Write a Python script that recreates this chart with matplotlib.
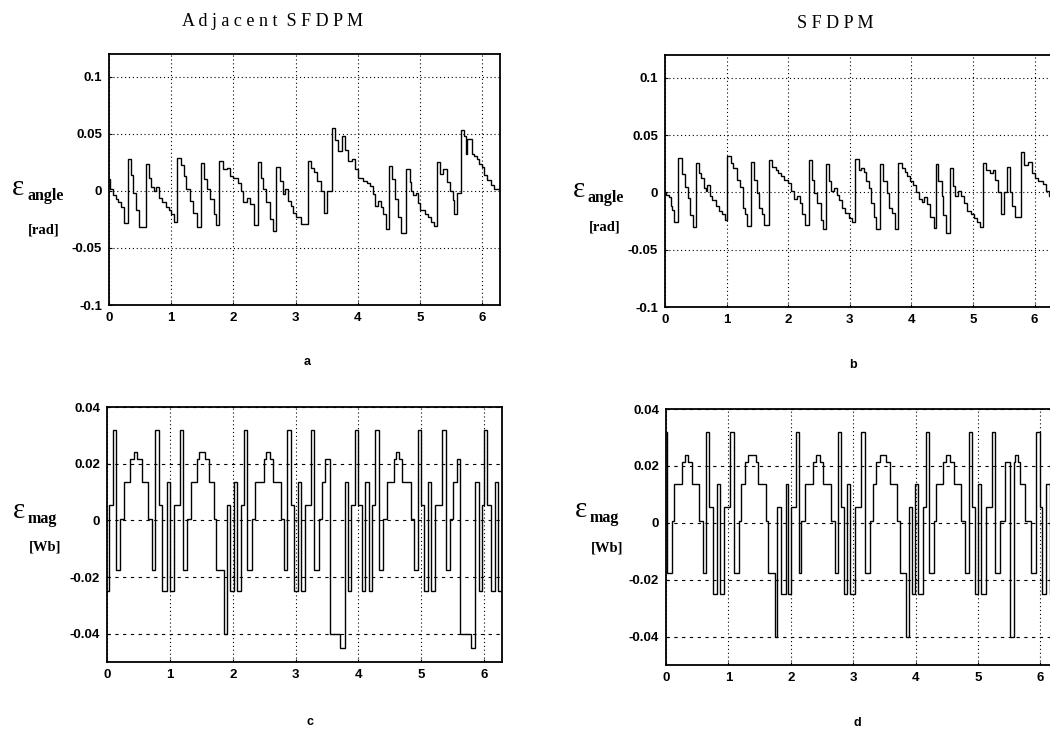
import numpy as np
import matplotlib
matplotlib.use('Agg')
import matplotlib.pyplot as plt

# step waveforms: x = start of each step [rad], y = level
END = 2 * np.pi

# a: angle error, adjacent SFDPM
a_x = [0.00, 0.02, 0.07, 0.11, 0.14, 0.19, 0.24, 0.30, 0.35, 0.39, 0.43, 0.49,
       0.59, 0.64, 0.68, 0.72, 0.76, 0.80, 0.85, 0.91, 0.96, 1.00, 1.04,
       1.10, 1.16, 1.20, 1.24, 1.30, 1.35, 1.41,
       1.48, 1.53, 1.57, 1.63, 1.68, 1.72,
       1.77, 1.83, 1.89, 1.95, 2.00, 2.07, 2.12, 2.16, 2.21, 2.27, 2.33,
       2.39, 2.44, 2.48, 2.52, 2.58, 2.63,
       2.69, 2.75, 2.79, 2.83, 2.87, 2.92, 2.96, 3.01, 3.08,
       3.19, 3.24, 3.29, 3.35, 3.40, 3.45, 3.51,
       3.59, 3.63, 3.68, 3.74, 3.79, 3.84, 3.90, 3.95, 4.00, 4.08, 4.14, 4.19,
       4.24, 4.28, 4.33, 4.37, 4.41, 4.45,
       4.50, 4.55, 4.59, 4.64, 4.69,
       4.77, 4.83, 4.86, 4.89, 4.93, 4.97, 5.00, 5.07, 5.12, 5.17, 5.22,
       5.27, 5.32, 5.37, 5.43, 5.48, 5.53, 5.55, 5.60,
       5.66, 5.70, 5.74, 5.76, 5.83, 5.87, 5.91, 5.95, 5.99, 6.03, 6.08, 6.14, 6.19]
a_y = [0.010, 0.002, -0.004, -0.007, -0.010, -0.014, -0.028, 0.028, 0.014, -0.002, -0.017, -0.032,
       0.024, 0.0115, 0.0035, 0.0, 0.0035, -0.006, -0.010, -0.014, -0.017, -0.020, -0.027,
       0.029, 0.023, 0.013, 0.0015, -0.009, -0.019, -0.032,
       0.0245, 0.010, 0.0015, -0.007, -0.020, -0.030,
       0.0265, 0.019, 0.020, 0.013, 0.0115, 0.007, 0.0, -0.010, -0.006, -0.0115, -0.030,
       0.025, 0.011, 0.0015, -0.010, -0.025, -0.035,
       0.021, 0.0087, -0.003, 0.0015, -0.009, -0.013, -0.019, -0.023, -0.029,
       0.0265, 0.020, 0.017, 0.0087, 0.0, -0.019, 0.0,
       0.055, 0.045, 0.035, 0.048, 0.036, 0.026, 0.028, 0.019, 0.0115, 0.009, 0.007, 0.004,
       -0.003, -0.013, -0.009, -0.014, -0.020, -0.033,
       0.022, 0.010, -0.007, -0.023, -0.037,
       0.0195, 0.008, 0.0, -0.004, -0.002, -0.011, -0.017, -0.020, -0.023, -0.027, -0.031,
       0.025, 0.0145, 0.0195, 0.008, 0.0, -0.008, -0.020, -0.002,
       0.0535, 0.0485, 0.0326, 0.0456, 0.0326, 0.031, 0.028, 0.024, 0.021, 0.0137, 0.0093, 0.005, 0.002]

# b: angle error, SFDPM
b_x = [0.00, 0.02, 0.06, 0.09, 0.12, 0.15,
       0.21, 0.27, 0.32, 0.37, 0.40, 0.45,
       0.50, 0.55, 0.58, 0.63, 0.66, 0.69, 0.73, 0.77, 0.83, 0.88, 0.93, 0.98,
       1.01, 1.07, 1.11, 1.17, 1.22, 1.26, 1.30, 1.33,
       1.39, 1.45, 1.49, 1.53, 1.57, 1.61,
       1.69, 1.74, 1.80, 1.84, 1.88, 1.93, 1.99, 2.04, 2.10, 2.15, 2.19, 2.23, 2.28,
       2.33, 2.38, 2.42, 2.47, 2.53, 2.57,
       2.61, 2.66, 2.70, 2.74, 2.79, 2.82, 2.88, 2.93, 2.99, 3.04,
       3.09, 3.15, 3.19, 3.23, 3.27, 3.31, 3.34, 3.39, 3.43,
       3.49, 3.54, 3.60, 3.63, 3.69, 3.74,
       3.79, 3.84, 3.89, 3.93, 3.98, 4.03, 4.08, 4.12, 4.17, 4.20, 4.25, 4.30, 4.36,
       4.40, 4.44, 4.49, 4.52, 4.57,
       4.63, 4.67, 4.71, 4.75, 4.81, 4.85, 4.90, 4.96, 5.01, 5.06, 5.12,
       5.17, 5.21, 5.27, 5.32, 5.36, 5.40, 5.46, 5.50,
       5.55, 5.60, 5.63, 5.69,
       5.78, 5.83, 5.90, 5.96, 6.00, 6.05, 6.13, 6.19, 6.24]
b_y = [0.0, -0.002, -0.004, -0.012, -0.015, -0.026,
       0.030, 0.016, 0.005, -0.005, -0.020, -0.030,
       0.026, 0.017, 0.0125, 0.004, 0.001, 0.0067, -0.0035, -0.0064, -0.012, -0.0165, -0.019, -0.024,
       0.032, 0.0255, 0.021, 0.011, 0.005, -0.0136, -0.019, -0.029,
       0.027, 0.011, -0.0006, -0.0136, -0.019, -0.028,
       0.0285, 0.0226, 0.020, 0.017, 0.014, 0.011, 0.008, 0.001, -0.006, -0.003, -0.009, -0.019, -0.028,
       0.0285, 0.011, -0.0006, -0.009, -0.024, -0.032,
       0.025, 0.0096, 0.001, 0.004, -0.002, -0.0064, -0.0136, -0.018, -0.022, -0.026,
       0.029, 0.0197, 0.021, 0.018, 0.0096, 0.004, -0.009, -0.021, -0.032,
       0.025, 0.0096, -0.0006, -0.0136, -0.018, -0.032,
       0.026, 0.021, 0.018, 0.014, 0.0096, 0.0067, 0.0, -0.006, -0.008, -0.004, -0.010, -0.021, -0.031,
       0.025, 0.0096, -0.0035, -0.020, -0.035,
       0.021, 0.006, -0.0035, 0.001, -0.0035, -0.009, -0.0165, -0.019, -0.022, -0.026, -0.030,
       0.026, 0.0197, 0.017, 0.020, 0.011, 0.0, -0.019, 0.0,
       0.022, 0.0, -0.012, -0.021,
       0.035, 0.024, 0.027, 0.017, 0.013, 0.010, 0.007, 0.001, -0.003]

# c: flux magnitude error, adjacent SFDPM
c_x = [0.00, 0.03, 0.10, 0.14, 0.20, 0.27, 0.37, 0.43, 0.48, 0.55, 0.65, 0.72,
       0.77, 0.82, 0.88, 0.95, 1.00,
       1.06, 1.16, 1.21, 1.27, 1.33, 1.43, 1.46, 1.56, 1.63, 1.70, 1.73, 1.86,
       1.91, 1.96, 2.02, 2.07,
       2.13, 2.18, 2.23, 2.30, 2.36, 2.49, 2.53, 2.59, 2.64, 2.77, 2.82,
       2.87, 2.93, 2.98, 3.04, 3.09,
       3.15, 3.24, 3.30, 3.37, 3.42, 3.47, 3.54, 3.71,
       3.78, 3.83, 3.88, 3.94, 3.99, 4.06, 4.11, 4.16,
       4.22, 4.27, 4.32, 4.39, 4.46, 4.56, 4.60, 4.65, 4.70, 4.83, 4.88,
       4.95, 5.00, 5.04, 5.11, 5.16,
       5.21, 5.33, 5.39, 5.46, 5.51, 5.56, 5.62, 5.79,
       5.86, 5.91, 5.96, 6.00, 6.05, 6.11, 6.17, 6.22]
c_y = [-0.025, 0.0055, 0.032, -0.0175, 0.0005, 0.0135, 0.0215, 0.024, 0.0215, 0.0135, 0.0005, -0.0175,
       0.032, 0.0055, -0.025, 0.0135, -0.025,
       0.0055, 0.032, -0.0175, 0.0005, 0.0135, 0.0215, 0.024, 0.0215, 0.0135, 0.0005, -0.0175, -0.040,
       0.0055, -0.025, 0.0135, -0.025,
       0.0055, 0.032, -0.0175, 0.0005, 0.0135, 0.0215, 0.024, 0.0215, 0.0135, 0.0005, -0.0175,
       0.032, 0.0055, -0.025, 0.0135, -0.025,
       0.0055, 0.032, -0.0175, 0.0005, 0.0135, 0.0215, -0.040, -0.045,
       0.0135, -0.025, 0.0055, 0.032, 0.0055, -0.025, 0.0135, -0.025,
       0.0055, 0.032, -0.0175, 0.0005, 0.0135, 0.0215, 0.024, 0.0215, 0.0135, 0.0005, -0.0175,
       0.032, 0.0055, -0.025, 0.0135, -0.025,
       0.0055, 0.032, -0.0175, 0.0005, 0.0135, 0.0215, -0.040, -0.045,
       0.0135, -0.025, 0.0055, 0.032, 0.0055, -0.025, 0.0135, -0.025]

# d: flux magnitude error, SFDPM
d_x = [0.00, 0.01, 0.09, 0.13, 0.25, 0.30, 0.36, 0.41, 0.53, 0.59,
       0.64, 0.69, 0.75, 0.81, 0.87,
       0.93, 1.02, 1.09, 1.17, 1.21, 1.26, 1.32, 1.44, 1.48, 1.61, 1.64, 1.74,
       1.78, 1.84, 1.92, 1.96,
       2.01, 2.08, 2.13, 2.17, 2.23, 2.35, 2.40, 2.47, 2.52, 2.65, 2.71,
       2.75, 2.80, 2.85, 2.90, 2.95,
       3.03, 3.13, 3.19, 3.27, 3.32, 3.37, 3.43, 3.53, 3.59, 3.71, 3.75, 3.84,
       3.90, 3.95, 3.99, 4.04,
       4.12, 4.16, 4.21, 4.30, 4.33, 4.44, 4.49, 4.55, 4.61, 4.73, 4.80,
       4.86, 4.90, 4.95, 5.00, 5.05,
       5.13, 5.23, 5.28, 5.36, 5.44, 5.52, 5.57, 5.60, 5.64, 5.68, 5.75, 5.85,
       5.93, 5.99, 6.02, 6.09, 6.15]
d_y = [0.032, -0.0175, 0.0005, 0.0135, 0.0215, 0.024, 0.0215, 0.0135, 0.0005, -0.0175,
       0.032, 0.0055, -0.025, 0.0135, -0.025,
       0.0055, 0.032, -0.0175, 0.0005, 0.0135, 0.0215, 0.024, 0.0215, 0.0135, 0.0005, -0.0175, -0.040,
       0.0055, -0.025, 0.0135, -0.025,
       0.0055, 0.032, -0.0175, 0.0005, 0.0135, 0.0215, 0.024, 0.0215, 0.0135, 0.0005, -0.0175,
       0.032, 0.0055, -0.025, 0.0135, -0.025,
       0.0055, 0.032, -0.0175, 0.0005, 0.0135, 0.0215, 0.024, 0.0215, 0.0135, 0.0005, -0.0175, -0.040,
       0.0055, -0.025, 0.0135, -0.025,
       0.0055, 0.032, -0.0175, 0.0005, 0.0135, 0.0215, 0.024, 0.0215, 0.0135, 0.0005, -0.0175,
       0.032, 0.0055, -0.025, 0.0135, -0.025,
       0.0055, 0.032, -0.0175, 0.0005, 0.0215, -0.040, 0.0215, 0.024, 0.0215, 0.0135, 0.0005, -0.0175,
       0.032, 0.0055, -0.025, 0.0135, -0.025]

angle_ticks = [-0.1, -0.05, 0, 0.05, 0.1]
angle_labels = ['-0.1', '-0.05', '0', '0.05', '0.1']
mag_ticks = [-0.04, -0.02, 0, 0.02, 0.04]
mag_labels = ['-0.04', '-0.02', '0', '0.02', '0.04']
x_ticks = [0, 1, 2, 3, 4, 5, 6]

SERIF = ['Liberation Serif', 'DejaVu Serif']
SANS = ['Liberation Sans', 'DejaVu Sans']

fig = plt.figure(figsize=(10.5, 7.3), dpi=100)
W, H = 1050.0, 730.0


def px_axes(left, top, right, bottom):
    # box given in picture pixels
    return fig.add_axes([left / W, 1 - bottom / H, (right - left) / W, (bottom - top) / H])


def setup(ax, xs, ys, ylim, yticks, ylabels, hstyle):
    ax.stairs(ys, list(xs) + [END], color='black', lw=1.0, baseline=None)
    ax.set_xlim(0, END)
    ax.set_ylim(*ylim)
    ax.set_xticks(x_ticks)
    ax.set_xticklabels([str(t) for t in x_ticks], fontsize=9.5, fontweight='bold', family=SANS)
    ax.set_yticks(yticks)
    ax.set_yticklabels(ylabels, fontsize=9.5, fontweight='bold', family=SANS)
    ax.tick_params(direction='in', length=2, width=0.8, pad=5)
    ax.xaxis.grid(True, color='black', linestyle=(0, (1, 2.5)), lw=0.8)
    ax.yaxis.grid(True, color='black', linestyle=hstyle, lw=0.8)
    for s in ax.spines.values():
        s.set_linewidth(1.3)


ax_a = px_axes(109, 54, 500, 305)
setup(ax_a, a_x, a_y, (-0.1, 0.12), angle_ticks, angle_labels, (0, (1, 2.5)))
ax_b = px_axes(665, 55, 1052, 307)
setup(ax_b, b_x, b_y, (-0.1, 0.12), angle_ticks, angle_labels, (0, (1, 2.5)))
ax_c = px_axes(107, 407, 502, 662)
setup(ax_c, c_x, c_y, (-0.05, 0.04), mag_ticks, mag_labels, (0, (3, 4)))
ax_d = px_axes(666, 409, 1058, 665)
setup(ax_d, d_x, d_y, (-0.05, 0.04), mag_ticks, mag_labels, (0, (3, 4)))


def ftext(x, y, s, **kw):
    fig.text(x / W, 1 - y / H, s, **kw)


# column titles
ftext(273, 22, 'A d j a c e n t  S F D P M', ha='center', va='center', fontsize=13, family=SERIF)
ftext(835, 23, 'S F D P M', ha='center', va='center', fontsize=13, family=SERIF)

# panel letters
ftext(307, 362, 'a', ha='center', va='center', fontsize=9, fontweight='bold', family=SANS)
ftext(853, 365, 'b', ha='center', va='center', fontsize=9, fontweight='bold', family=SANS)
ftext(310, 722, 'c', ha='center', va='center', fontsize=9, fontweight='bold', family=SANS)
ftext(857, 723, 'd', ha='center', va='center', fontsize=9, fontweight='bold', family=SANS)

# y labels: large epsilon with bold subscript, unit underneath
for ex, ey, sub, unit_y, unit in [(12, 188, 'angle', 230, '[rad]'),
                                  (573, 190, 'angle', 227, '[rad]'),
                                  (13, 511, 'mag', 547, '[Wb]'),
                                  (575, 510, 'mag', 548, '[Wb]')]:
    ftext(ex, ey, '\u03b5', ha='left', va='center', fontsize=21, family=SERIF)
    ftext(ex + 15, ey + 8, sub, ha='left', va='center', fontsize=11.5, fontweight='bold', family=SERIF)
    ftext(ex + 32, unit_y, unit, ha='center', va='center', fontsize=10.5, fontweight='bold', family=SERIF)

fig.savefig('out.png', dpi=100)
